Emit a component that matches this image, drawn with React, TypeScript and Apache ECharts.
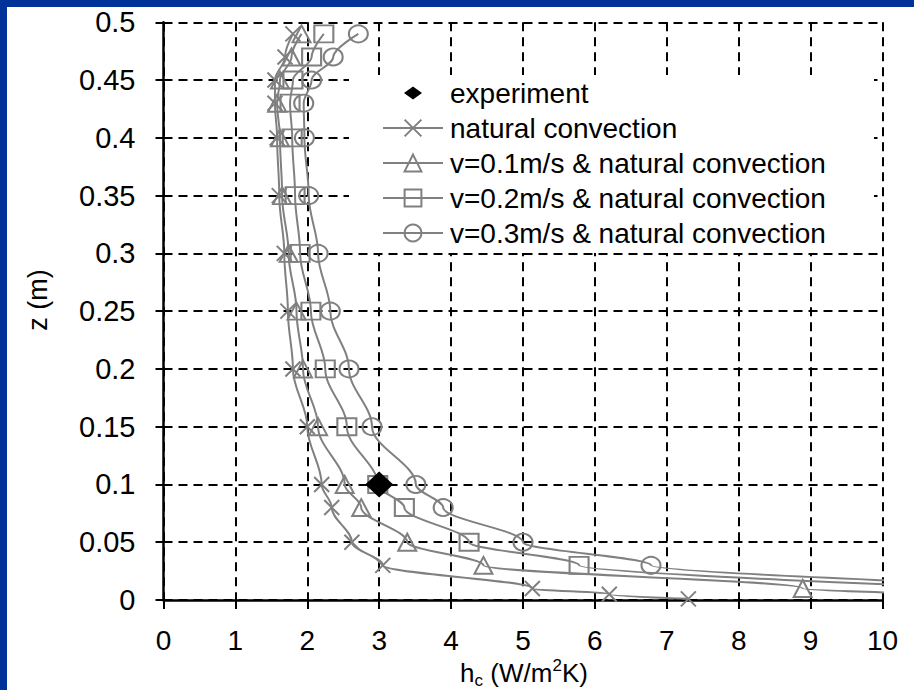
import React, { useEffect, useRef } from "react";
import * as echarts from "echarts";

// ---- data (h_c in W/m2K, z in m) ----
const seriesNames = [
  "experiment",
  "natural convection",
  "v=0.1m/s & natural convection",
  "v=0.2m/s & natural convection",
  "v=0.3m/s & natural convection",
];

const hExp = [3.0];
const zExp = [0.1];

const zNat = [0.49, 0.47, 0.45, 0.43, 0.4, 0.35, 0.3, 0.25, 0.2, 0.15, 0.1, 0.08, 0.05, 0.03, 0.01, 0.005, 0.001];
const hNat = [1.8, 1.69, 1.55, 1.55, 1.58, 1.61, 1.68, 1.73, 1.8, 2.0, 2.2, 2.34, 2.62, 3.05, 5.13, 6.2, 7.3];

const zV1 = [0.49, 0.47, 0.45, 0.43, 0.4, 0.35, 0.3, 0.25, 0.2, 0.15, 0.1, 0.08, 0.05, 0.03, 0.01, 0.005];
const hV1 = [1.92, 1.78, 1.62, 1.58, 1.62, 1.65, 1.74, 1.85, 1.94, 2.15, 2.52, 2.75, 3.39, 4.45, 8.89, 10.9];

const zV2 = [0.49, 0.47, 0.45, 0.43, 0.4, 0.35, 0.3, 0.25, 0.2, 0.15, 0.1, 0.08, 0.05, 0.03, 0.01];
const hV2 = [2.23, 2.06, 1.8, 1.76, 1.79, 1.83, 1.9, 2.05, 2.25, 2.55, 2.98, 3.35, 4.25, 5.78, 11.5];

const zV3 = [0.49, 0.47, 0.45, 0.43, 0.4, 0.35, 0.3, 0.25, 0.2, 0.15, 0.1, 0.08, 0.05, 0.03, 0.01];
const hV3 = [2.71, 2.36, 2.06, 1.95, 1.96, 2.02, 2.15, 2.32, 2.58, 2.9, 3.51, 3.89, 5.0, 6.78, 13.0];

const xMin = 0, xMax = 10, xStep = 1;
const yMin = 0, yMax = 0.5, yStep = 0.05;

const FONT = "Liberation Sans, Arial, sans-serif";
const GRAY = "#808080";

const pairs = (h: number[], z: number[]) => h.map((v, i) => [v, z[i]]);

export default function App() {
  const ref = useRef<HTMLDivElement>(null);
  useEffect(() => {
    if (!ref.current) return;
    const chart = echarts.init(ref.current, null, { renderer: "svg" });
    const lineSeries = (name: string, data: number[][], symbol: string, size: number[] | number) => ({
      name,
      type: "line",
      data,
      smooth: 0.35,
      smoothMonotone: "y",
      showSymbol: true,
      showAllSymbol: true,
      symbol,
      symbolSize: size,
      clip: true,
      z: 3,
      lineStyle: { color: GRAY, width: 2 },
      itemStyle: { color: "rgba(255,255,255,0)", borderColor: GRAY, borderWidth: 2 },
      emphasis: { disabled: true },
    });
    const big = { fontSize: 26, fontFamily: FONT, fill: "#000", align: "left", verticalAlign: "bottom" };
    const small = { fontSize: 17, fontFamily: FONT, fill: "#000", align: "left", verticalAlign: "bottom" };
    const tb = 679; // bottom of main title text
    chart.setOption({
      animation: false,
      backgroundColor: "#ffffff",
      grid: { left: 156.5, right: 31.5, top: 15.3, bottom: 90, containLabel: false },
      xAxis: {
        type: "value",
        min: xMin,
        max: xMax,
        interval: xStep,
        axisLine: { show: true, onZero: false, lineStyle: { color: "#000", width: 2.5 } },
        axisTick: { show: true, length: 9, lineStyle: { color: "#000", width: 2 } },
        axisLabel: { margin: 26, fontSize: 28, color: "#000", fontFamily: FONT },
        splitLine: { show: true, lineStyle: { color: "#000", width: 2, type: [9, 6] } },
      },
      yAxis: {
        type: "value",
        min: yMin,
        max: yMax,
        interval: yStep,
        axisLine: { show: true, onZero: false, lineStyle: { color: "#000", width: 2.5 } },
        axisTick: { show: true, length: 8, lineStyle: { color: "#000", width: 2 } },
        axisLabel: { margin: 28, fontSize: 29, color: "#000", fontFamily: FONT },
        splitLine: { show: true, lineStyle: { color: "#000", width: 2, type: [9, 6] } },
      },
      legend: {
        orient: "vertical",
        left: 375,
        top: 72,
        padding: 0,
        itemWidth: 60,
        itemHeight: 21,
        itemGap: 7,
        selectedMode: false,
        data: [
          {
            name: seriesNames[0],
            icon: "path://M0,0M60,21M21,10.5L30,4L39,10.5L30,17Z",
            itemStyle: { color: "#000", opacity: 1 },
          },
          seriesNames[1],
          seriesNames[2],
          seriesNames[3],
          seriesNames[4],
        ],
        textStyle: { fontSize: 28, color: "#000", fontFamily: FONT, padding: [0, 0, 0, 2] },
      },
      graphic: [
        { type: "rect", z: 1, silent: true, shape: { x: 342, y: 68, width: 525, height: 178 }, style: { fill: "#ffffff" } },
        {
          type: "text",
          x: 31,
          y: 293,
          rotation: Math.PI / 2,
          style: { text: "z (m)", fontSize: 27, fontFamily: FONT, fill: "#000", align: "center", verticalAlign: "middle" },
        },
        { type: "text", x: 453, y: tb, style: { ...big, text: "h" } },
        { type: "text", x: 467.5, y: tb + 3, style: { ...small, text: "c" } },
        { type: "text", x: 476, y: tb, style: { ...big, text: " (W/m" } },
        { type: "text", x: 545.5, y: tb - 12, style: { ...small, text: "2" } },
        { type: "text", x: 555, y: tb, style: { ...big, text: "K)" } },
      ],
      series: [
        {
          name: seriesNames[0],
          type: "scatter",
          data: pairs(hExp, zExp),
          symbol: "diamond",
          symbolSize: [28, 26],
          z: 5,
          itemStyle: { color: "#000", opacity: 1 },
          emphasis: { disabled: true },
        },
        lineSeries(seriesNames[1], pairs(hNat, zNat), "path://M0,0L10,10M10,0L0,10", 15),
        lineSeries(seriesNames[2], pairs(hV1, zV1), "triangle", [18, 17]),
        lineSeries(seriesNames[3], pairs(hV2, zV2), "rect", [19, 17]),
        lineSeries(seriesNames[4], pairs(hV3, zV3), "circle", [19, 17]),
      ],
    });
    return () => chart.dispose();
  }, []);
  return (
    <div style={{ position: "absolute", left: 0, top: 0, width: 914, height: 690, background: "#003399", overflow: "hidden" }}>
      <div ref={ref} style={{ position: "absolute", left: 7, top: 7, width: 907, height: 683, background: "#fff" }} />
    </div>
  );
}
